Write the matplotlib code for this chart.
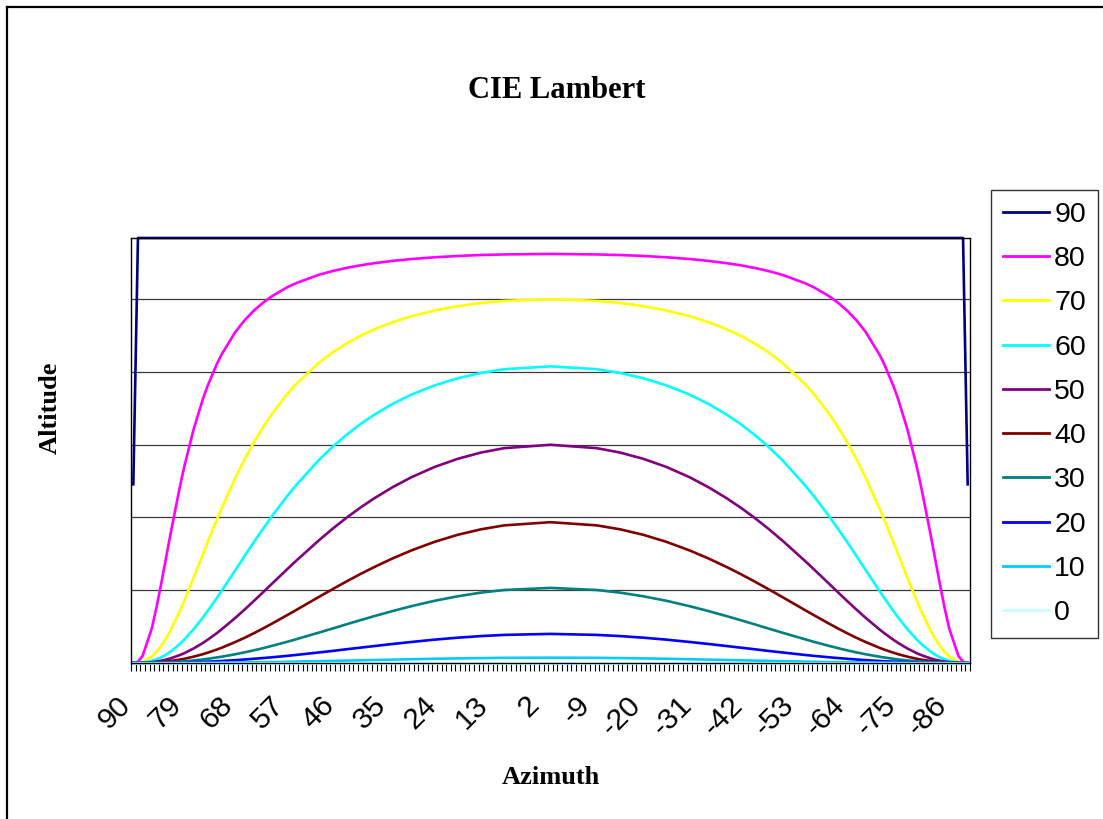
import matplotlib
matplotlib.use("Agg")
import matplotlib.pyplot as plt
from matplotlib.lines import Line2D
from matplotlib.transforms import offset_copy

# category axis: azimuth from 90 down to -90, one category per degree
azimuth_cats = list(range(90, -91, -1))
tick_labels = [str(a) for a in azimuth_cats[::11]]

# azimuths at which the curves were read
sample_az = [90, 89, 88, 86, 85, 84, 83, 82, 80, 79, 77, 75, 74, 72, 71, 68, 66, 64, 62, 60, 57, 55, 50, 47,
             44, 41, 38, 34, 30, 25, 20, 15, 10, 0,
             -10, -15, -20, -25, -30, -34, -38, -41, -44, -47, -50, -55, -57, -60, -62, -64, -66, -68, -71,
             -72, -74, -75, -77, -79, -80, -82, -83, -84, -85, -86, -88, -89, -90]

alt90 = [0.2455, 0.584, 0.584, 0.584, 0.584, 0.584, 0.584, 0.584, 0.584, 0.584, 0.584, 0.584, 0.584, 0.584,
         0.584, 0.584, 0.584, 0.584, 0.584, 0.584, 0.584, 0.584, 0.584, 0.584, 0.584, 0.584, 0.584, 0.584,
         0.584, 0.584, 0.584, 0.584, 0.584, 0.584,
         0.584, 0.584, 0.584, 0.584, 0.584, 0.584, 0.584, 0.584, 0.584, 0.584, 0.584, 0.584, 0.584, 0.584,
         0.584, 0.584, 0.584, 0.584, 0.584, 0.584, 0.584, 0.584, 0.584, 0.584, 0.584, 0.584, 0.584, 0.584,
         0.584, 0.584, 0.584, 0.584, 0.2455]
alt80 = [0, 0.0018, 0.0097, 0.0479, 0.0763, 0.1085, 0.1424, 0.1765, 0.2408, 0.2700, 0.3209, 0.3626, 0.3804,
         0.4106, 0.4234, 0.4548, 0.4709, 0.4842, 0.4952, 0.5044, 0.5156, 0.5217, 0.5334, 0.5386, 0.5429,
         0.5465, 0.5494, 0.5526, 0.5551, 0.5575, 0.5593, 0.5606, 0.5614, 0.5621,
         0.5614, 0.5606, 0.5593, 0.5575, 0.5551, 0.5526, 0.5494, 0.5465, 0.5429, 0.5386, 0.5334, 0.5217,
         0.5156, 0.5044, 0.4952, 0.4842, 0.4709, 0.4548, 0.4234, 0.4106, 0.3804, 0.3626, 0.3209, 0.2700,
         0.2408, 0.1765, 0.1424, 0.1085, 0.0763, 0.0479, 0.0097, 0.0018, 0]
alt70 = [0, 0.0003, 0.0016, 0.0090, 0.0153, 0.0234, 0.0332, 0.0445, 0.0711, 0.0858, 0.1170, 0.1493, 0.1654,
         0.1968, 0.2120, 0.2544, 0.2800, 0.3032, 0.3243, 0.3432, 0.3681, 0.3826, 0.4125, 0.4269, 0.4392,
         0.4497, 0.4586, 0.4685, 0.4766, 0.4844, 0.4904, 0.4947, 0.4976, 0.4999,
         0.4976, 0.4947, 0.4904, 0.4844, 0.4766, 0.4685, 0.4586, 0.4497, 0.4392, 0.4269, 0.4125, 0.3826,
         0.3681, 0.3432, 0.3243, 0.3032, 0.2800, 0.2544, 0.2120, 0.1968, 0.1654, 0.1493, 0.1170, 0.0858,
         0.0711, 0.0445, 0.0332, 0.0234, 0.0153, 0.0090, 0.0016, 0.0003, 0]
alt60 = [0, 0.0001, 0.0005, 0.0029, 0.0050, 0.0078, 0.0113, 0.0155, 0.0260, 0.0322, 0.0464, 0.0625, 0.0712,
         0.0893, 0.0988, 0.1276, 0.1470, 0.1661, 0.1846, 0.2025, 0.2278, 0.2435, 0.2788, 0.2972, 0.3137,
         0.3283, 0.3413, 0.3563, 0.3688, 0.3815, 0.3913, 0.3986, 0.4037, 0.4076,
         0.4037, 0.3986, 0.3913, 0.3815, 0.3688, 0.3563, 0.3413, 0.3283, 0.3137, 0.2972, 0.2788, 0.2435,
         0.2278, 0.2025, 0.1846, 0.1661, 0.1470, 0.1276, 0.0988, 0.0893, 0.0712, 0.0625, 0.0464, 0.0322,
         0.0260, 0.0155, 0.0113, 0.0078, 0.0050, 0.0029, 0.0005, 0.0001, 0]
alt50 = [0, 0, 0.0002, 0.0012, 0.0020, 0.0031, 0.0046, 0.0063, 0.0108, 0.0135, 0.0199, 0.0275, 0.0318,
         0.0410, 0.0460, 0.0620, 0.0734, 0.0852, 0.0973, 0.1095, 0.1277, 0.1397, 0.1684, 0.1845, 0.1996,
         0.2136, 0.2264, 0.2418, 0.2553, 0.2694, 0.2806, 0.2892, 0.2952, 0.2999,
         0.2952, 0.2892, 0.2806, 0.2694, 0.2553, 0.2418, 0.2264, 0.2136, 0.1996, 0.1845, 0.1684, 0.1397,
         0.1277, 0.1095, 0.0973, 0.0852, 0.0734, 0.0620, 0.0460, 0.0410, 0.0318, 0.0275, 0.0199, 0.0135,
         0.0108, 0.0063, 0.0046, 0.0031, 0.0020, 0.0012, 0.0002, 0, 0]
alt40 = [0, 0, 0.0001, 0.0005, 0.0008, 0.0013, 0.0019, 0.0027, 0.0046, 0.0058, 0.0087, 0.0121, 0.0141,
         0.0184, 0.0208, 0.0288, 0.0346, 0.0409, 0.0475, 0.0544, 0.0651, 0.0723, 0.0907, 0.1015, 0.1121,
         0.1223, 0.1319, 0.1439, 0.1547, 0.1665, 0.1762, 0.1837, 0.1891, 0.1935,
         0.1891, 0.1837, 0.1762, 0.1665, 0.1547, 0.1439, 0.1319, 0.1223, 0.1121, 0.1015, 0.0907, 0.0723,
         0.0651, 0.0544, 0.0475, 0.0409, 0.0346, 0.0288, 0.0208, 0.0184, 0.0141, 0.0121, 0.0087, 0.0058,
         0.0046, 0.0027, 0.0019, 0.0013, 0.0008, 0.0005, 0.0001, 0, 0]
alt30 = [0, 0, 0, 0.0002, 0.0003, 0.0005, 0.0008, 0.0011, 0.0018, 0.0023, 0.0035, 0.0049, 0.0057,
         0.0076, 0.0086, 0.0120, 0.0146, 0.0174, 0.0204, 0.0237, 0.0288, 0.0324, 0.0417, 0.0474, 0.0532,
         0.0589, 0.0644, 0.0715, 0.0781, 0.0855, 0.0917, 0.0967, 0.1003, 0.1032,
         0.1003, 0.0967, 0.0917, 0.0855, 0.0781, 0.0715, 0.0644, 0.0589, 0.0532, 0.0474, 0.0417, 0.0324,
         0.0288, 0.0237, 0.0204, 0.0174, 0.0146, 0.0120, 0.0086, 0.0076, 0.0057, 0.0049, 0.0035, 0.0023,
         0.0018, 0.0011, 0.0008, 0.0005, 0.0003, 0.0002, 0, 0, 0]
alt20 = [0, 0, 0, 0.0001, 0.0001, 0.0002, 0.0002, 0.0003, 0.0006, 0.0007, 0.0011, 0.0016, 0.0018,
         0.0024, 0.0028, 0.0039, 0.0048, 0.0058, 0.0068, 0.0079, 0.0097, 0.0110, 0.0145, 0.0166, 0.0189,
         0.0211, 0.0233, 0.0262, 0.0289, 0.0321, 0.0348, 0.0370, 0.0386, 0.0400,
         0.0386, 0.0370, 0.0348, 0.0321, 0.0289, 0.0262, 0.0233, 0.0211, 0.0189, 0.0166, 0.0145, 0.0110,
         0.0097, 0.0079, 0.0068, 0.0058, 0.0048, 0.0039, 0.0028, 0.0024, 0.0018, 0.0016, 0.0011, 0.0007,
         0.0006, 0.0003, 0.0002, 0.0002, 0.0001, 0.0001, 0, 0, 0]
alt10 = [0, 0, 0, 0, 0, 0, 0, 0.0001, 0.0001, 0.0001, 0.0002, 0.0003, 0.0003,
         0.0004, 0.0005, 0.0007, 0.0008, 0.0010, 0.0011, 0.0013, 0.0016, 0.0019, 0.0025, 0.0029, 0.0033,
         0.0037, 0.0041, 0.0046, 0.0052, 0.0058, 0.0063, 0.0067, 0.0071, 0.0073,
         0.0071, 0.0067, 0.0063, 0.0058, 0.0052, 0.0046, 0.0041, 0.0037, 0.0033, 0.0029, 0.0025, 0.0019,
         0.0016, 0.0013, 0.0011, 0.0010, 0.0008, 0.0007, 0.0005, 0.0004, 0.0003, 0.0003, 0.0002, 0.0001,
         0.0001, 0.0001, 0, 0, 0, 0, 0, 0, 0]
alt0 = [0, 0, 0, 0, 0, 0, 0, 0, 0, 0, 0, 0, 0, 0, 0, 0, 0, 0, 0, 0, 0, 0, 0, 0, 0, 0, 0, 0, 0, 0, 0, 0, 0, 0,
        0, 0, 0, 0, 0, 0, 0, 0, 0, 0, 0, 0, 0, 0, 0, 0, 0, 0, 0, 0, 0, 0, 0, 0, 0, 0, 0, 0, 0, 0, 0, 0, 0]

series_names = ["90", "80", "70", "60", "50", "40", "30", "20", "10", "0"]
series_values = [alt90, alt80, alt70, alt60, alt50, alt40, alt30, alt20, alt10, alt0]
colors = ["#000080", "#FF00FF", "#FFFF00", "#00FFFF", "#800080",
          "#800000", "#008080", "#0000FF", "#00CCFF", "#CCFFFF"]

fig = plt.figure(figsize=(11.03, 8.19), dpi=100)
ax = fig.add_axes([131 / 1103, 1 - 663 / 819, (970 - 131) / 1103, (663 - 238) / 819])

xpos = [azimuth_cats.index(a) for a in sample_az]
for name, vals, c in zip(series_names, series_values, colors):
    ax.plot(xpos, vals, color=c, lw=1.9, label=name, solid_joinstyle="round", clip_on=False)

ax.set_xlim(-0.5, len(azimuth_cats) - 0.5)
ax.set_ylim(0, 0.584)

# gridlines, no y labels
ax.set_yticks([0.1, 0.2, 0.3, 0.4, 0.5])
ax.set_yticklabels([])
ax.tick_params(axis="y", length=0)
ax.grid(axis="y", color="#3a3a3a", lw=0.9)
ax.set_axisbelow(True)

# ticks between categories, a label every 11th category
ax.set_xticks([])
ax.set_xticks([i - 0.5 for i in range(len(azimuth_cats) + 1)], minor=True)
ax.tick_params(axis="x", which="minor", length=6, width=0.8, color="black")
label_tr = offset_copy(ax.get_xaxis_transform(), fig=fig, x=-7, y=-38, units="dots")
for i, lab in zip(range(0, len(azimuth_cats), 11), tick_labels):
    ax.text(i, 0, lab, transform=label_tr, rotation=45, rotation_mode="anchor",
            ha="right", va="center", fontsize=21.5, family="Liberation Sans")

for s in ax.spines.values():
    s.set_color("black")
    s.set_linewidth(1.0)

leg = ax.legend(loc="upper left", bbox_to_anchor=(991 / 1103, 1 - 190 / 819),
                bbox_transform=fig.transFigure, borderaxespad=0, frameon=True,
                fancybox=False, edgecolor="black", prop={"family": "Liberation Sans", "size": 20.5},
                handlelength=1.6, handletextpad=0.2, labelspacing=0.64, borderpad=0.42)
leg.get_frame().set_linewidth(1.0)
for h in leg.get_lines():
    h.set_linewidth(2.0)

fig.text(557 / 1103, 1 - 90 / 819, "CIE Lambert", ha="center", va="center",
         fontsize=22, fontweight="bold", family="Liberation Serif")
fig.text(50 / 1103, 1 - 408 / 819, "Altitude", ha="center", va="center", rotation=90,
         fontsize=19, fontweight="bold", family="Liberation Serif")
fig.text(551 / 1103, 1 - 778 / 819, "Azimuth", ha="center", va="center",
         fontsize=19, fontweight="bold", family="Liberation Serif")

# chart border
fig.add_artist(Line2D([7 / 1103, 7 / 1103], [0, 1 - 7 / 819], transform=fig.transFigure,
                      color="black", lw=1.6))
fig.add_artist(Line2D([7 / 1103, 1], [1 - 7 / 819, 1 - 7 / 819], transform=fig.transFigure,
                      color="black", lw=1.6))

fig.savefig("out.png", dpi=100)
